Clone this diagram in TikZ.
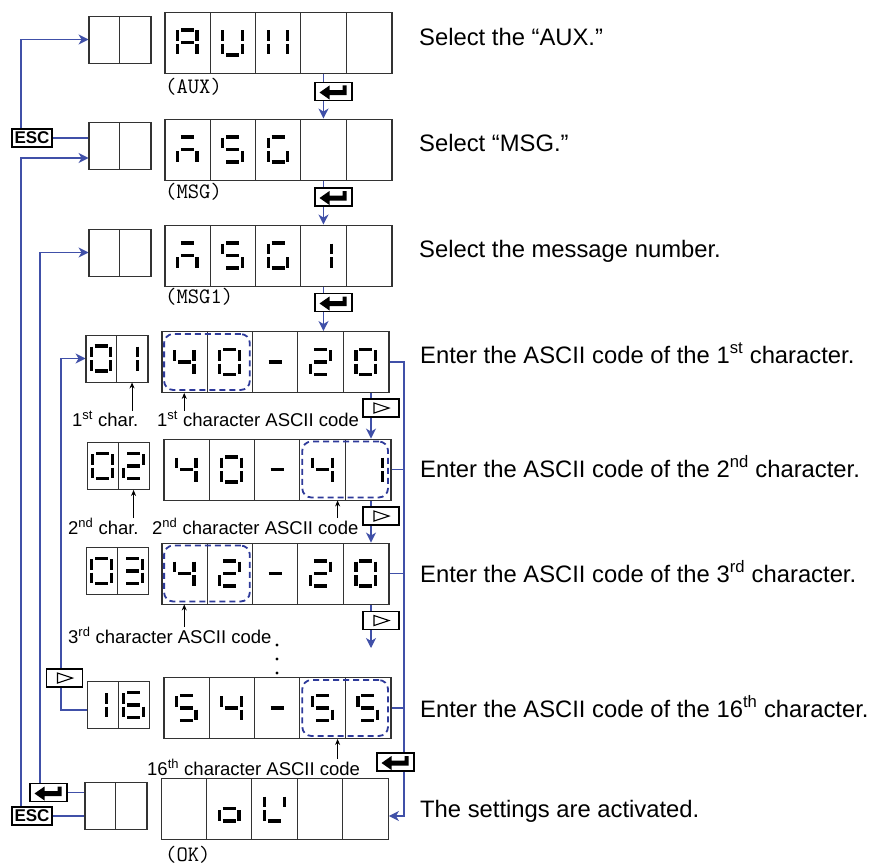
\documentclass[tikz,border=0pt]{standalone}
\usepackage{fontspec}
\setmainfont{Liberation Sans}
\usepackage{tikz}
\usetikzlibrary{arrows.meta,positioning,fit,backgrounds,calc}
\definecolor{flowblue}{HTML}{4050A8}
\definecolor{hilite}{HTML}{2E3A9A}
\definecolor{frame}{HTML}{333333}

% seven segment digit: bits a b c d e f g, then the position
\newcommand{\segbits}[8]{%
  \begin{scope}[shift={#8}]
    \ifnum#1=1 \draw[seg] (-6.5,-12.5) -- (6.5,-12.5);\fi
    \ifnum#2=1 \draw[seg] (9.8,-12) -- (9.8,-1.5);\fi
    \ifnum#3=1 \draw[seg] (9.8,1.5) -- (9.8,12);\fi
    \ifnum#4=1 \draw[seg] (-6.5,12.5) -- (6.5,12.5);\fi
    \ifnum#5=1 \draw[seg] (-9.8,1.5) -- (-9.8,12);\fi
    \ifnum#6=1 \draw[seg] (-9.8,-12) -- (-9.8,-1.5);\fi
    \ifnum#7=1 \draw[seg] (-6.5,0) -- (6.5,0);\fi
  \end{scope}}
\newcommand{\defseg}[2]{\expandafter\def\csname sg#1\endcsname{#2}}
\newcommand{\sd}[2]{\expandafter\expandafter\expandafter\segbits\csname sg#2\endcsname{#1}}
\defseg{0}{1111110}
\defseg{1}{0110000}
\defseg{2}{1101101}
\defseg{3}{1111001}
\defseg{4}{0110011}
\defseg{5}{1011011}
\defseg{6}{1011111}
\defseg{-}{0000001}
\defseg{A}{1110111}
\defseg{U}{0111110}
\defseg{X}{0110110}
\defseg{M}{1010101}
\defseg{S}{1011011}
\defseg{G}{1011110}
\defseg{o}{0011101}
\defseg{K}{0101110}

\begin{document}
\begin{tikzpicture}[
  x=1pt, y=-1pt,
  seg/.style={line width=3.2pt, black},
  dbox/.style={draw=frame, line width=0.9pt, minimum width=227pt,
               minimum height=61pt, inner sep=0pt},
  sbox/.style={draw=frame, line width=0.9pt, minimum width=62pt,
               minimum height=47pt, inner sep=0pt},
  cell/.style={draw=frame, line width=0.9pt, minimum width=45.4pt,
               minimum height=61pt, inner sep=0pt},
  scell/.style={cell, minimum width=31pt, minimum height=47pt},
  keybox/.style={draw=black, line width=1.2pt, fill=white,
                 minimum height=18pt, inner sep=0pt},
  enterkey/.style={keybox, minimum width=37pt,
    path picture={\fill[black, shift={(path picture bounding box.center)}]
      (-14,1) -- (-4,-6) -- (-4,-1.5) -- (9,-1.5) -- (9,-6) -- (13,-6)
      -- (13,3.5) -- (-4,3.5) -- (-4,8) -- cycle;}},
  playkey/.style={keybox, minimum width=36pt,
    path picture={\draw[black, line width=1.1pt, shift={(path picture bounding box.center)}]
      (-7,-5) -- (8,0) -- (-7,5) -- cycle;}},
  esckey/.style={keybox, minimum width=40pt,
                 font=\bfseries\fontsize{17}{17}\selectfont},
  hl/.style={draw=hilite, dash pattern=on 6pt off 4pt, line width=1.8pt,
             rounded corners=9pt, inner sep=-3pt},
  flow/.style={draw=flowblue, line width=1.3pt},
  arr/.style={flow, -{Stealth[length=10pt,width=10pt,inset=3pt]}},
  ptr/.style={-{Stealth[length=6pt,width=5pt]}, line width=0.9pt, black},
  lab/.style={font=\fontsize{23.8}{28}\selectfont, anchor=base west, inner sep=0pt},
  note/.style={font=\fontsize{18.5}{22}\selectfont, anchor=base west, inner sep=0pt},
  mono/.style={font=\ttfamily\fontsize{22}{26}\selectfont, anchor=base west, inner sep=0pt}
]
\useasboundingbox (0,0) rectangle (881,867);

% displays: big one and small one per step
\foreach \r/\dx/\dy/\sx/\sy in {1/278.5/42.5/120/39.5, 2/278.5/149.5/120/146,
    3/278.5/255.5/120/252.5, 4/275.5/362/117/358.5, 5/277.5/469.5/118.5/466,
    6/275.5/573.5/117.5/571, 7/277.5/708/118.5/705, 8/275/808.5/116/805.5}{
  \node[dbox] (d\r) at (\dx,\dy) {};
  \node[sbox] (s\r) at (\sx,\sy) {};
  \foreach \k in {1,...,5}
    \node[cell] (d\r-\k) at ($(d\r.west)+(45.4*\k-22.7,0)$) {};
  \foreach \k in {1,2}
    \node[scell] (s\r-\k) at ($(s\r.west)+(31*\k-15.5,0)$) {};
}

% digits
\foreach \k/\c in {1/A,2/U,3/X} {\sd{(d1-\k)}{\c}}
\foreach \k/\c in {1/M,2/S,3/G} {\sd{(d2-\k)}{\c}}
\foreach \k/\c in {1/M,2/S,3/G} {\sd{(d3-\k)}{\c}}
\sd{($(d3-4)+(-2,0)$)}{1}
\sd{(s4-1)}{0}
\sd{($(s4-2)+(-4,0)$)}{1}
\foreach \k/\c in {1/4,2/0,3/-,4/2,5/0} {\sd{(d4-\k)}{\c}}
\sd{(s5-1)}{0}
\sd{(s5-2)}{2}
\foreach \k/\c in {1/4,2/0,3/-,4/4} {\sd{(d5-\k)}{\c}}
\sd{($(d5-5)+(5,0)$)}{1}
\sd{(s6-1)}{0}
\sd{(s6-2)}{3}
\foreach \k/\c in {1/4,2/2,3/-,4/2,5/0} {\sd{(d6-\k)}{\c}}
\sd{($(s7-1)+(-6,0)$)}{1}
\sd{(s7-2)}{6}
\foreach \k/\c in {1/5,2/4,3/-,4/5,5/5} {\sd{(d7-\k)}{\c}}
\sd{(d8-2)}{o}
\sd{(d8-3)}{K}

% highlighted code digits
\node[hl, fit=(d4-1)(d4-2)] (h4) {};
\node[hl, fit=(d5-4)(d5-5)] (h5) {};
\node[hl, fit=(d6-1)(d6-2)] (h6) {};
\node[hl, fit=(d7-4)(d7-5)] (h7) {};

% keys
\node[enterkey] (ent1) at (333.5,91.5) {};
\node[enterkey] (ent2) at (333.5,197) {};
\node[enterkey] (ent3) at (333.5,302.5) {};
\node[playkey]  (play4) at (381,408) {};
\node[playkey]  (play5) at (381,516) {};
\node[playkey]  (play6) at (381,620.5) {};
\node[playkey]  (play7) at (64.5,678) {};
\node[enterkey] (ent7) at (395.5,762) {};
\node[enterkey] (ent8) at (48.5,792.5) {};
\node[esckey]   (esc1) at (32,138) {ESC};
\node[esckey]   (esc8) at (32,816) {ESC};

% texts
\node[lab] (lab1) at (419,46) {Select the “AUX.”};
\node[lab] (lab2) at (419,151) {Select “MSG.”};
\node[lab] (lab3) at (419,257) {Select the message number.};
\node[lab] (lab4) at (420,363) {Enter the ASCII code of the 1\textsuperscript{st} character.};
\node[lab] (lab5) at (420,477) {Enter the ASCII code of the 2\textsuperscript{nd} character.};
\node[lab] (lab6) at (420,582) {Enter the ASCII code of the 3\textsuperscript{rd} character.};
\node[lab] (lab7) at (420,717) {Enter the ASCII code of the 16\textsuperscript{th} character.};
\node[lab] (lab8) at (420,817) {The settings are activated.};
\node[mono] (m1) at (165,93) {(AUX)};
\node[mono] (m2) at (165,198) {(MSG)};
\node[mono] (m3) at (165,303) {(MSG1)};
\node[mono] (m8) at (165,861) {(OK)};
\node[note] (ch4) at (72,426) {1\textsuperscript{st} char.};
\node[note] (code4) at (157,426) {1\textsuperscript{st} character ASCII code};
\node[note] (ch5) at (68,534) {2\textsuperscript{nd} char.};
\node[note] (code5) at (152,534) {2\textsuperscript{nd} character ASCII code};
\node[note] (code6) at (68,643) {3\textsuperscript{rd} character ASCII code};
\node[note] (code7) at (147,775) {16\textsuperscript{th} character ASCII code};

% pointers to the digits
\coordinate (p5) at ($(d5-4.south east)+(-8,0)$);
\coordinate (p7) at ($(d7-4.south east)+(-8,0)$);
\draw[ptr] (ch4.north -| s4-2.south) -- (s4-2.south);
\draw[ptr] (code4.north -| d4-1.south) -- (d4-1.south);
\draw[ptr] (ch5.north -| s5-2.south) -- (s5-2.south);
\draw[ptr] (code5.north -| p5) -- (p5);
\draw[ptr] (code6.north -| d6-1.south) -- (d6-1.south);
\draw[ptr] (code7.north -| p7) -- (p7);

% more characters follow
\foreach \y in {645,659,673} \fill (277,\y) circle (1.7);

% flow lines
\coordinate (colA) at (21,0);
\coordinate (colB) at (40,0);
\coordinate (colC) at (61,0);
\coordinate (colV) at (371,0);
\coordinate (colR) at (404,0);
\coordinate (more) at (371,648);
\coordinate (okin) at ($(d8.east)+(0,7.5)$);
\coordinate (s2in) at ($(s2.west)+(0,12)$);
\coordinate (s7out) at ($(s7.west)+(0,5)$);
\begin{scope}[on background layer]
\draw[arr] (d1-4.south) -- (d2-4.north);
\draw[arr] (d2-4.south) -- (d3-4.north);
\draw[arr] (d3-4.south) -- (d3-4.south |- d4.north);
\draw[arr] (d4.south -| colV) -- (d5.north -| colV);
\draw[arr] (d5.south -| colV) -- (d6.north -| colV);
\draw[arr] (d6.south -| colV) -- (more);
\draw[arr] (d4.east) -- (d4.east -| colR) -- (colR |- okin) -- (okin);
\foreach \r in {5,6,7} \draw[flow] (d\r.east) -- (d\r.east -| colR);
\draw[arr] (esc1.north -| colA) |- (s1.west);
\draw[flow] (esc1.east) -- (esc1.east -| s2.west);
\draw[arr] (esc8.north -| colA) |- (s2in);
\draw[flow] (esc8.east) -- (esc8.east -| s8.west);
\draw[arr] (ent8.north -| colB) |- (s3.west);
\draw[flow] (ent8.east) -- (ent8.east -| s8.west);
\draw[arr] (s7out) -| (colC |- s4.west) -- (s4.west);
\end{scope}
\end{tikzpicture}
\end{document}
